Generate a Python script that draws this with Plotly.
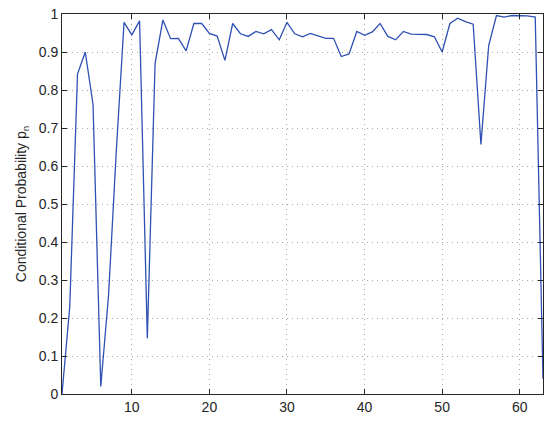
import plotly.graph_objects as go

# index n = 1..63
n_values = list(range(1, 64))
p_values = [
    0.0, 0.23, 0.842, 0.90, 0.762, 0.02, 0.26, 0.64, 0.978, 0.945,
    0.982, 0.147, 0.871, 0.984, 0.935, 0.936, 0.903, 0.975, 0.975, 0.949,
    0.942, 0.878, 0.975, 0.948, 0.941, 0.954, 0.948, 0.959, 0.932, 0.978,
    0.948, 0.940, 0.949, 0.943, 0.936, 0.936, 0.888, 0.895, 0.954, 0.944,
    0.953, 0.975, 0.941, 0.932, 0.954, 0.947, 0.947, 0.946, 0.940, 0.900,
    0.975, 0.989, 0.980, 0.973, 0.657, 0.917, 0.996, 0.992, 0.996, 0.996,
    0.995, 0.992, 0.04,
]
x_ticks = [10, 20, 30, 40, 50, 60]
y_ticks = [0, 0.1, 0.2, 0.3, 0.4, 0.5, 0.6, 0.7, 0.8, 0.9, 1]
y_ticklabels = ["0", "0.1", "0.2", "0.3", "0.4", "0.5", "0.6", "0.7", "0.8", "0.9", "1"]

font = dict(family="Liberation Sans, Arial", size=14, color="#262626")

fig = go.Figure()
fig.add_trace(go.Scatter(
    x=n_values, y=p_values, mode="lines",
    line=dict(color="#2f50b4", width=1.3),
    showlegend=False,
))

axis_style = dict(
    showline=True, linecolor="#262626", linewidth=1, mirror="allticks",
    ticks="inside", ticklen=5, tickcolor="#262626",
    showgrid=True, gridcolor="#a8a8a8", griddash="1px,4px", gridwidth=1,
    zeroline=False,
    tickfont=font, ticklabeloverflow="allow",
)

fig.update_xaxes(range=[1, 63], tickvals=x_ticks, **axis_style)
fig.update_yaxes(range=[0, 1], tickvals=y_ticks, ticktext=y_ticklabels,
                 title=dict(text="Conditional Probability p<sub>n</sub>",
                            font=font, standoff=8),
                 **axis_style)

fig.update_layout(
    width=550, height=421,
    margin=dict(l=62, r=6, t=12, b=27),
    paper_bgcolor="white", plot_bgcolor="white",
)

# drop the default body margin so the figure sits at the window corner
fig.write_html("out.html", config={"displayModeBar": False},
               post_script="document.body.style.margin='0px';")
